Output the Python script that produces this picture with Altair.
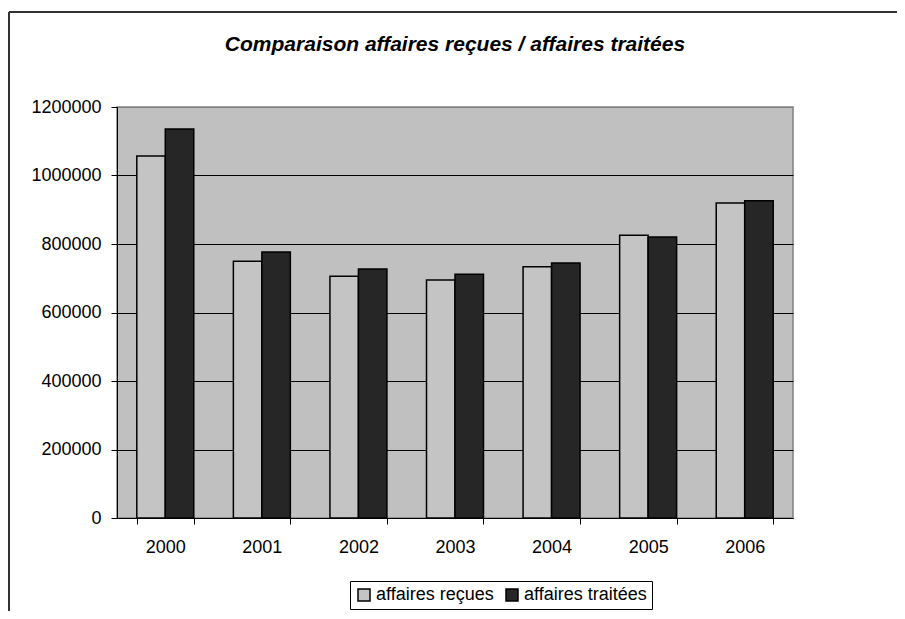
import altair as alt
import pandas as pd

years = ["2000", "2001", "2002", "2003", "2004", "2005", "2006"]
series_names = ["affaires reçues", "affaires traitées"]
recues = [1057000, 749500, 705700, 694900, 733700, 825400, 919700]
traitees = [1135800, 776600, 727000, 711500, 744500, 820400, 926400]
y_ticks = [0, 200000, 400000, 600000, 800000, 1000000, 1200000]
series_colors = ["#c4c4c4", "#262626"]

rows = []
for i, yr in enumerate(years):
    rows.append({"annee": yr, "serie": series_names[0], "valeur": recues[i]})
    rows.append({"annee": yr, "serie": series_names[1], "valeur": traitees[i]})
df = pd.DataFrame(rows)

FONT = "Liberation Sans"

bars = alt.Chart(df).mark_bar(stroke="black", strokeWidth=1.5).encode(
    x=alt.X("annee:N", sort=years, title=None,
            scale=alt.Scale(paddingInner=0.41, paddingOuter=0.205),
            axis=alt.Axis(labelAngle=0, tickBand="extent", tickSize=6, tickColor="black",
                          domainColor="black", labelFontSize=18, labelColor="black",
                          labelFont=FONT, labelPadding=14, grid=False)),
    xOffset=alt.XOffset("serie:N", sort=series_names, scale=alt.Scale(paddingInner=0, paddingOuter=0)),
    y=alt.Y("valeur:Q", title=None,
            scale=alt.Scale(domain=[0, 1200000], nice=False),
            axis=alt.Axis(values=y_ticks, format="d", tickSize=6, tickColor="black", domainColor="black",
                          labelFontSize=18, labelColor="black", labelFont=FONT, labelPadding=10,
                          grid=True,
                          gridColor={"condition": {"test": "datum.value >= 1200000", "value": "#808080"},
                                     "value": "#000000"},
                          gridWidth=1)),
    color=alt.Color("serie:N", sort=series_names,
                    scale=alt.Scale(domain=series_names, range=series_colors),
                    legend=alt.Legend(title=None, orient="none", legendX=233, legendY=474,
                                      direction="horizontal", symbolType="square", symbolSize=144,
                                      symbolStrokeColor="black", symbolStrokeWidth=1.5,
                                      labelFontSize=18, labelFont=FONT, labelColor="black",
                                      strokeColor="black", fillColor="white", padding=5,
                                      columnPadding=9, labelOffset=3)),
)

frame_left = alt.Chart(df).mark_rule(color="#333333", strokeWidth=1.2).encode(
    x=alt.value(-108), y=alt.value(-95), y2=alt.value(520))
frame_top = alt.Chart(df).mark_rule(color="#333333", strokeWidth=1.2).encode(
    x=alt.value(-108), x2=alt.value(800), y=alt.value(-95))

chart = alt.layer(bars, frame_left, frame_top).properties(
    width=676, height=411,
    background="white",
    title=alt.TitleParams("Comparaison affaires reçues / affaires traitées",
                          font=FONT, fontSize=21, fontWeight="bold", fontStyle="italic",
                          color="black", anchor="middle", offset=-44),
    autosize=alt.AutoSizeParams(type="none"),
    padding={"left": 109, "top": 99, "right": 104, "bottom": 93},
).configure_view(fill="#c0c0c0", stroke="#808080", strokeWidth=1.5)

chart.save("out.html", embed_options={"renderer": "svg", "actions": False})
